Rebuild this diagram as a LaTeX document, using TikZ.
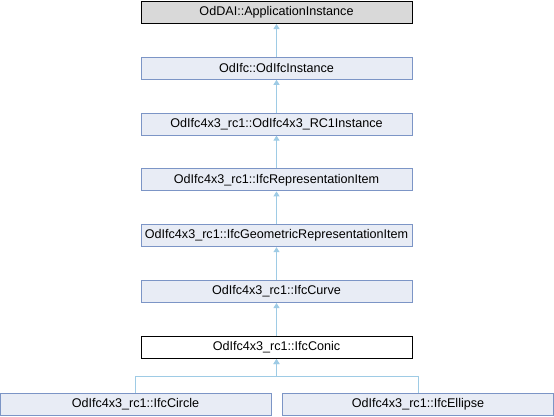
\documentclass[tikz,border=0pt]{standalone}
\usepackage{fontspec}
\setmainfont{Liberation Sans}
\usepackage{tikz}
\usetikzlibrary{arrows.meta,positioning}
\definecolor{clsfill}{HTML}{E8ECF5}
\definecolor{clsdraw}{HTML}{7C95C6}
\definecolor{basefill}{HTML}{D9D9D9}
\definecolor{edgeblue}{HTML}{9ECBE5}
\tikzset{
  inheritarrow/.style={-{Triangle[length=5pt,width=6pt]}, line width=1pt, draw=edgeblue},
  clsbox/.style={draw=clsdraw, line width=1pt, fill=clsfill, minimum width=271pt,
    minimum height=22pt, inner sep=0pt, font=\fontsize{12.6}{14}\selectfont}
}

\begin{document}
\begin{tikzpicture}[
        x=1pt,y=-1pt,
        rootbox/.style={clsbox, draw=black, fill=basefill},
        focusbox/.style={clsbox, draw=black, fill=white}
    ]
        \useasboundingbox (0,0) rectangle (554,416);

        \node[rootbox] (app) at (276.5,12.5) {OdDAI::ApplicationInstance};
        \node[clsbox] (ifcinst) at (276.5,68.3) {OdIfc::OdIfcInstance};
        \node[clsbox] (rc1inst) at (276.5,124.1) {OdIfc4x3\_rc1::OdIfc4x3\_RC1Instance};
        \node[clsbox] (repitem) at (276.5,179.9) {OdIfc4x3\_rc1::IfcRepresentationItem};
        \node[clsbox] (georep) at (276.5,235.7) {OdIfc4x3\_rc1::IfcGeometricRepresentationItem};
        \node[clsbox] (curve) at (276.5,291.5) {OdIfc4x3\_rc1::IfcCurve};
        \node[focusbox] (conic) at (276.5,347.5) {OdIfc4x3\_rc1::IfcConic};

        \node[clsbox] (circle) at (135.5,404) {OdIfc4x3\_rc1::IfcCircle};
        \node[clsbox] (ellipse) at (418,404) {OdIfc4x3\_rc1::IfcEllipse};

        \foreach \a/\b in {ifcinst/app,rc1inst/ifcinst,repitem/rc1inst,georep/repitem,curve/georep,conic/curve}
            \draw[inheritarrow] (\a) -- (\b);

        % shared bus below the conic
        \coordinate (bus) at (276.5,376);
        \draw[inheritarrow] (circle.north) |- (bus) -- (conic.south);
        \draw[inheritarrow] (ellipse.north) |- (bus) -- (conic.south);
    \end{tikzpicture}
\end{document}
